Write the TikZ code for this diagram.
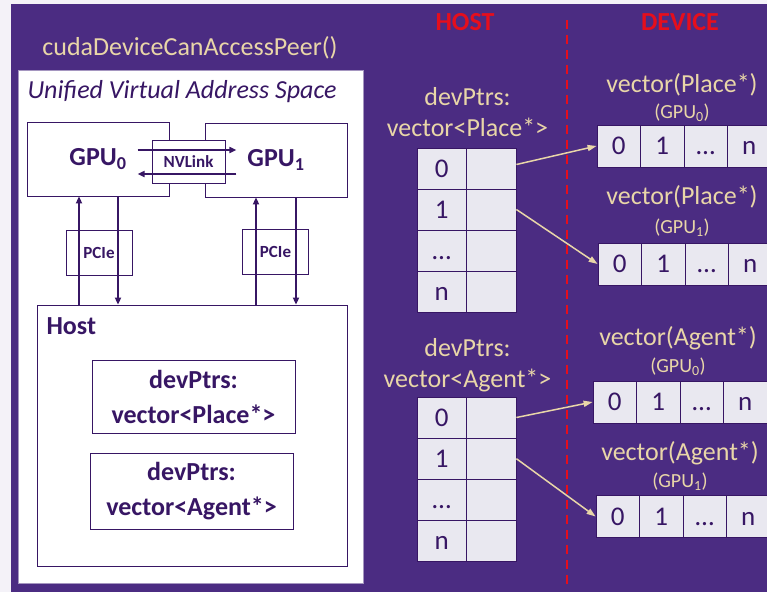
\documentclass[tikz,border=0pt]{standalone}
\usepackage{fontspec}
\setmainfont{Carlito}
\usetikzlibrary{arrows.meta,positioning,calc}
\definecolor{uwPurple}{RGB}{75,44,130}
\definecolor{inkPurple}{RGB}{55,22,100}
\definecolor{paleGold}{RGB}{233,214,168}
\definecolor{cellGray}{RGB}{233,232,240}
\definecolor{hdRed}{RGB}{230,14,28}
\definecolor{pageGray}{RGB}{244,242,248}

\begin{document}
\begin{tikzpicture}[x=1pt,y=-1pt,
    box/.style={draw=inkPurple, fill=white, line width=0.8pt, inner sep=0pt, text=inkPurple},
    cell/.style={draw=inkPurple, fill=cellGray, line width=0.8pt, inner sep=0pt,
      text=inkPurple, font=\fontsize{27}{27}\selectfont, text height=17pt, text depth=0pt},
    tcell/.style={cell, minimum width=49.5pt, minimum height=41pt},
    vcell/.style={cell, minimum width=43.5pt, minimum height=42pt},
    link/.style={-{Triangle[length=7pt,width=6pt]}, line width=2pt, draw=inkPurple},
    ptr/.style={-{Triangle[length=9pt,width=6pt]}, line width=1.5pt, draw=paleGold},
    gold/.style={text=paleGold, font=\fontsize{26}{31}\selectfont, align=center},
    gpuTag/.style={text=paleGold, font=\fontsize{20}{20}\selectfont},
    side/.style={text=hdRed, font=\bfseries\fontsize{26}{26}\selectfont},
    chip/.style={box, font=\bfseries\fontsize{17}{17}\selectfont}]
  \useasboundingbox (0,0) rectangle (767,592);
  \fill[pageGray] (0,0) rectangle (767,592);
  \fill[uwPurple] (11,4) rectangle (767,592);

  % unified address space, GPUs and host
  \node[gold] (peer) at (190,48) {cudaDeviceCanAccessPeer()};
  \node[box, draw=uwPurple!50, minimum width=345pt, minimum height=513pt] (uva) at (190.5,326.5) {};
  \node[anchor=west, text=inkPurple, font=\itshape\fontsize{26}{26}\selectfont] (uvaTitle) at (24,92) {Unified Virtual Address Space};

  \node[box, minimum width=142pt, minimum height=74pt, font=\bfseries\fontsize{26}{26}\selectfont] (gpuA) at (98,159) {GPU\textsubscript{0}};
  \node[box, minimum width=142pt, minimum height=74pt, font=\bfseries\fontsize{26}{26}\selectfont] (gpuB) at (276,160) {GPU\textsubscript{1}};
  \node[chip, minimum width=73pt, minimum height=43pt] (nvlink) at (188.5,161.5) {NVLink};
  \draw[link] ([xshift=-14pt,yshift=11.5pt]nvlink.west) -- ([xshift=11pt,yshift=11.5pt]nvlink.east);
  \draw[link] ([xshift=11pt,yshift=-12.5pt]nvlink.east) -- ([xshift=-14pt,yshift=-12.5pt]nvlink.west);

  \node[box, minimum width=310pt, minimum height=261pt] (host) at (192,435.5) {};
  \node[anchor=west, text=inkPurple, font=\bfseries\fontsize{26}{26}\selectfont] (hostName) at (43,326) {Host};
  \node[box, minimum width=203pt, minimum height=73pt, align=center, font=\bfseries\fontsize{26}{35}\selectfont] (hostPlace) at (193.5,396.5) {devPtrs:\\vector<Place*>};
  \node[box, minimum width=203pt, minimum height=76pt, align=center, font=\bfseries\fontsize{26}{35}\selectfont] (hostAgent) at (191.5,491) {devPtrs:\\vector<Agent*>};

  \node[chip, minimum width=66pt, minimum height=45pt] (pcieA) at (99,252.5) {PCIe};
  \node[chip, minimum width=66pt, minimum height=45pt] (pcieB) at (275.5,251.5) {PCIe};
  \draw[link] ([xshift=-19pt]gpuA.south |- host.north) -- ([xshift=-19pt]gpuA.south);
  \draw[link] ([xshift=20pt]gpuA.south) -- ([xshift=20pt]gpuA.south |- host.north);
  \draw[link] ([xshift=-20pt]gpuB.south |- host.north) -- ([xshift=-20pt]gpuB.south);
  \draw[link] ([xshift=20pt]gpuB.south) -- ([xshift=20pt]gpuB.south |- host.north);

  % host / device split
  \node[side] (hostSide) at (465,22) {HOST};
  \node[side] (devSide) at (680,22) {DEVICE};
  \coordinate (splitTop) at (567,20);
  \coordinate (splitEnd) at (567,584);
  \draw[hdRed, line width=2pt, dash pattern=on 9pt off 6pt] (splitTop) -- (splitEnd);

  % pointer tables on the host
  \node[gold] (tpName) at (467.5,112) {devPtrs:\\vector<Place*>};
  \node[gold] (taName) at (467.5,365) {devPtrs:\\vector<Agent*>};
  \foreach \r/\lbl in {0/0,1/1,2/…,3/n} {
    \node[tcell] (tp-\r-a) at (441.75,168.5+41*\r) {\lbl};
    \node[tcell] (tp-\r-b) at (491.25,168.5+41*\r) {};
    \node[tcell] (ta-\r-a) at (441.75,417.5+41.2*\r) {\lbl};
    \node[tcell] (ta-\r-b) at (491.25,417.5+41.2*\r) {};
  }

  % device arrays
  \foreach \v/\x/\y in {pa/618.75/146, pb/619.75/264, aa/614.75/402, ab/617.75/516.5}
    \foreach \c/\lbl in {0/0,1/1,2/…,3/n}
      \node[vcell] (\v-\c) at (\x+43.5*\c,\y) {\lbl};

  \node[gold] (paName) at (682,85) {vector(Place*)};
  \node[gpuTag] (paTag) at (682,113) {(GPU\textsubscript{0})};
  \node[gold] (pbName) at (682,197) {vector(Place*)};
  \node[gpuTag] (pbTag) at (682,228) {(GPU\textsubscript{1})};
  \node[gold] (aaName) at (678,338) {vector(Agent*)};
  \node[gpuTag] (aaTag) at (678,367) {(GPU\textsubscript{0})};
  \node[gold] (abName) at (680,453) {vector(Agent*)};
  \node[gpuTag] (abTag) at (680,482) {(GPU\textsubscript{1})};

  \draw[ptr] ([yshift=4pt]tp-0-b.east) -- (pa-0.west);
  \draw[ptr] (tp-1-b.east) -- (pb-0.west);
  \draw[ptr] (ta-0-b.east) -- (aa-0.west);
  \draw[ptr] (ta-1-b.east) -- (ab-0.west);
\end{tikzpicture}
\end{document}
